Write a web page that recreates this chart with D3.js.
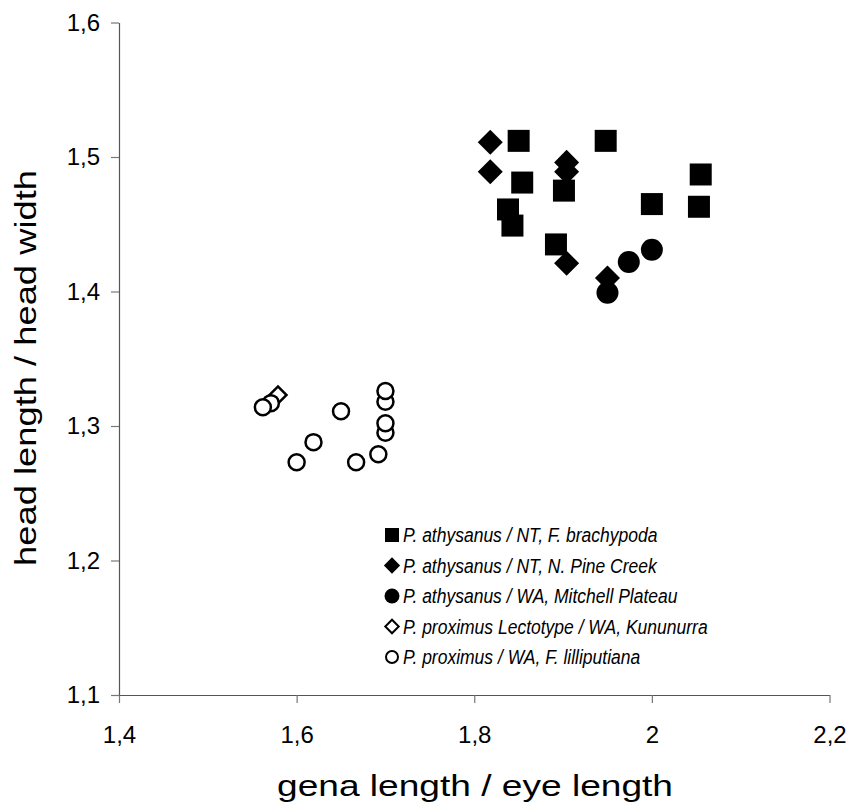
<!DOCTYPE html>
<html>
<head>
<meta charset="utf-8">
<script src="https://cdn.jsdelivr.net/npm/d3@7"></script>
<style>
body { margin: 0; background: #fff; }
text { font-family: Arial, "Liberation Sans", sans-serif; fill: #000; }
</style>
</head>
<body>
<div id="chart"></div>
<script>
// data

var xTicks = [1.4, 1.6, 1.8, 2.0, 2.2];
var yTicks = [1.1, 1.2, 1.3, 1.4, 1.5, 1.6];

var seriesLabels = [
    "P. athysanus / NT, F. brachypoda",
    "P. athysanus / NT, N. Pine Creek",
    "P. athysanus / WA, Mitchell Plateau",
    "P. proximus Lectotype / WA, Kununurra",
    "P. proximus / WA, F. lilliputiana"
];

var brachypodaX = [1.850, 1.948, 1.854, 1.901, 2.055, 2.000, 2.053, 1.838, 1.843, 1.892];
var brachypodaY = [1.512, 1.512, 1.481, 1.475, 1.487, 1.465, 1.463, 1.461, 1.449, 1.435];

var pineCreekX = [1.818, 1.818, 1.904, 1.904, 1.904, 1.950];
var pineCreekY = [1.511, 1.489, 1.496, 1.489, 1.421, 1.410];

var mitchellX = [1.950, 1.974, 2.000];
var mitchellY = [1.399, 1.422, 1.431];

var lectotypeX = [1.579];
var lectotypeY = [1.323];

var lilliputianaX = [1.571, 1.562, 1.650, 1.619, 1.600, 1.667, 1.692, 1.700, 1.700, 1.700, 1.700];
var lilliputianaY = [1.317, 1.314, 1.311, 1.288, 1.273, 1.273, 1.279, 1.318, 1.326, 1.295, 1.302];

var width = 850,
    height = 809;

var svg = d3.select("#chart").append("svg")
    .attr("width", width)
    .attr("height", height)
    .style("background", "#fff");

var xScale = d3.scaleLinear()
    .domain([1.4, 2.2])
    .range([119, 829.5]);

var yScale = d3.scaleLinear()
    .domain([1.1, 1.6])
    .range([695, 22.5]);

// comma as decimal mark
var locale = d3.formatLocale({decimal: ",", thousands: ".", grouping: [3], currency: ["", ""]});
var fmt = locale.format("~g");

var xAxis = d3.axisBottom(xScale)
    .tickValues(xTicks)
    .tickFormat(fmt)
    .tickSize(8)
    .tickSizeOuter(0)
    .tickPadding(23);

var yAxis = d3.axisLeft(yScale)
    .tickValues(yTicks)
    .tickFormat(fmt)
    .tickSize(8)
    .tickSizeOuter(0)
    .tickPadding(11);

var gx = svg.append("g")
    .attr("class", "x axis")
    .attr("transform", "translate(0," + yScale(1.1) + ")")
    .call(xAxis);

var gy = svg.append("g")
    .attr("class", "y axis")
    .attr("transform", "translate(" + xScale(1.4) + ",0)")
    .call(yAxis);

[gx, gy].forEach(function(g) {
    g.select(".domain").attr("stroke", "#555").attr("stroke-width", 1.2);
    g.selectAll(".tick line").attr("stroke", "#777").attr("stroke-width", 1.2);
    g.selectAll(".tick text")
        .style("font-family", "Arial, 'Liberation Sans', sans-serif")
        .style("font-size", "24px")
        .attr("fill", "#000");
});

// axis titles
svg.append("text")
    .attr("x", 475)
    .attr("y", 796)
    .attr("text-anchor", "middle")
    .attr("textLength", 396)
    .attr("lengthAdjust", "spacingAndGlyphs")
    .style("font-size", "29px")
    .text("gena length / eye length");

svg.append("text")
    .attr("transform", "translate(36,368) rotate(-90)")
    .attr("text-anchor", "middle")
    .attr("textLength", 396)
    .attr("lengthAdjust", "spacingAndGlyphs")
    .style("font-size", "29px")
    .text("head length / head width");

// series and their marker styles
var series = [
    {label: seriesLabels[0], x: brachypodaX, y: brachypodaY, shape: "square", open: false},
    {label: seriesLabels[1], x: pineCreekX, y: pineCreekY, shape: "diamond", open: false},
    {label: seriesLabels[2], x: mitchellX, y: mitchellY, shape: "circle", open: false},
    {label: seriesLabels[3], x: lectotypeX, y: lectotypeY, shape: "diamond", open: true},
    {label: seriesLabels[4], x: lilliputianaX, y: lilliputianaY, shape: "circle", open: true}
];

function markerPath(s, small) {
    var size;
    if (s.shape == "square") {
        size = small ? 14 * 14 : 22 * 22;
        return d3.symbol().type(d3.symbolSquare).size(size)();
    }
    if (s.shape == "diamond") {
        if (s.open) size = small ? 9.5 * 9.5 : 12 * 12;
        else size = small ? 11.5 * 11.5 : 17.7 * 17.7;
        return d3.symbol().type(d3.symbolSquare).size(size)();
    }
    if (s.open) size = small ? Math.PI * 36 : Math.PI * 64;
    else size = small ? Math.PI * 56 : Math.PI * 121;
    return d3.symbol().type(d3.symbolCircle).size(size)();
}

function styleMarker(sel, s) {
    sel.attr("fill", s.open ? "#fff" : "#000")
        .attr("stroke", s.open ? "#000" : "none")
        .attr("stroke-width", s.open ? 2.5 : 0);
}

series.forEach(function(s) {
    var pts = s.x.map(function(v, i) { return {x: v, y: s.y[i]}; });
    svg.append("g")
        .selectAll("path")
        .data(pts)
        .enter()
        .append("path")
        .attr("d", markerPath(s, false))
        .attr("transform", function(d) {
            return "translate(" + xScale(d.x) + "," + yScale(d.y) + ")" +
                (s.shape == "diamond" ? " rotate(45)" : "");
        })
        .call(styleMarker, s);
});

// legend
var legend = svg.append("g")
    .attr("transform", "translate(392,535)");

var rows = legend.selectAll("g")
    .data(series)
    .enter()
    .append("g")
    .attr("transform", function(d, i) { return "translate(0," + (i * 30.5) + ")"; });

rows.each(function(s) {
    d3.select(this).append("path")
        .attr("d", markerPath(s, true))
        .attr("transform", s.shape == "diamond" ? "rotate(45)" : null)
        .call(styleMarker, s)
        .attr("stroke-width", s.open ? 2 : 0);
});

// legend text is a little narrower than plain Arial
rows.append("text")
    .attr("transform", "translate(11,0) scale(0.875,1)")
    .attr("dy", "0.35em")
    .style("font-size", "20px")
    .style("font-style", "italic")
    .text(function(d) { return d.label; });
</script>
</body>
</html>
